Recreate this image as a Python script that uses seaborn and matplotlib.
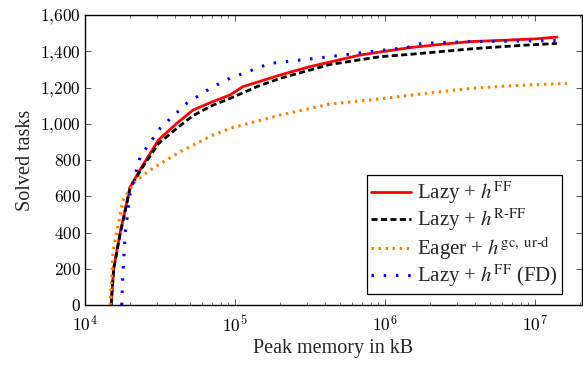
import math
import pandas as pd
import matplotlib
matplotlib.use('Agg')
import matplotlib.pyplot as plt
import matplotlib.ticker as mticker
import seaborn as sns

# Peak memory (kB) vs. number of solved tasks
lazy_ff_x = [14900, 15500, 17100, 19950, 23900, 30800, 40800, 52500, 70000, 92600,
             113000, 200000, 316000, 681000, 1000000, 1470000, 2500000, 3700000,
             6000000, 10000000, 14000000]
lazy_ff_y = [0, 200, 397, 651, 763, 910, 1002, 1076, 1120, 1159,
             1205, 1269, 1315, 1379, 1400, 1420, 1440, 1453,
             1460, 1468, 1478]

lazy_rff_x = [14900, 15500, 17100, 19950, 23900, 30800, 40800, 52500, 70000, 92600,
              140000, 200000, 430000, 926000, 1470000, 2500000, 4000000, 8000000,
              14000000]
lazy_rff_y = [0, 200, 390, 645, 755, 890, 975, 1045, 1100, 1140,
              1205, 1251, 1327, 1370, 1383, 1400, 1415, 1432,
              1443]

eager_x = [14700, 15380, 17900, 21500, 27100, 43000, 71300, 92600, 200000, 430000,
           790000, 1390000, 2000000, 3700000, 7000000, 16300000]
eager_y = [0, 303, 579, 680, 745, 846, 938, 975, 1048, 1109,
           1131, 1155, 1170, 1195, 1210, 1223]

lazy_fd_x = [17550, 17800, 18500, 19950, 23300, 31600, 47600, 71300, 92600, 171000,
             430000, 794000, 1390000, 1750000, 3700000, 15000000]
lazy_fd_y = [0, 150, 397, 616, 818, 975, 1113, 1205, 1251, 1333,
             1370, 1398, 1420, 1443, 1453, 1459]

labels = [r'Lazy + $h^{\mathrm{FF}}$',
          r'Lazy + $h^{\mathrm{R\text{-}FF}}$',
          r'Eager + $h^{\mathrm{gc,\ ur\text{-}d}}$',
          r'Lazy + $h^{\mathrm{FF}}$ (FD)']

sns.set_style('ticks')
plt.rcParams['font.family'] = ['Liberation Serif', 'DejaVu Serif']
plt.rcParams['mathtext.fontset'] = 'stix'

fig = plt.figure(figsize=(5.83, 3.65), dpi=100)
ax = fig.add_axes([0.146, 0.164, 0.852, 0.795])

series = [
    (lazy_ff_x, lazy_ff_y, '#ff0000', '-', 2.0),
    (lazy_rff_x, lazy_rff_y, '#000000', (0, (2.2, 1.2)), 2.0),
    (eager_x, eager_y, '#ff8000', (0, (0.8, 1.5)), 2.2),
    (lazy_fd_x, lazy_fd_y, '#0000ff', (0, (0.8, 3.2)), 2.2),
]
for (xs, ys, c, ls, lw), lab in zip(series, labels):
    df = pd.DataFrame({'x': xs, 'y': ys})
    sns.lineplot(data=df, x='x', y='y', ax=ax, color=c, linestyle=ls,
                 linewidth=lw, label=lab, sort=False, estimator=None)

ax.set_xscale('log')
ax.set_xlim(1e4, 2.05e7)
ax.set_ylim(0, 1600)
ax.yaxis.set_major_locator(mticker.MultipleLocator(200))
ax.yaxis.set_major_formatter(mticker.FuncFormatter(
    lambda v, p: r'$%s$' % format(int(v), ',').replace(',', '{,}')))
ax.xaxis.set_major_locator(mticker.LogLocator(base=10))
ax.xaxis.set_minor_locator(mticker.LogLocator(base=10, subs=range(2, 10)))
ax.xaxis.set_minor_formatter(mticker.NullFormatter())
ax.xaxis.set_major_formatter(mticker.FuncFormatter(
    lambda v, p: r'$10^{%d}$' % round(math.log10(v))))

ax.tick_params(which='both', direction='in', top=True, right=True,
               colors='#555555', labelcolor='black', labelsize=12.5)
ax.tick_params(which='major', length=4.5, width=0.7)
ax.tick_params(which='minor', length=2.5, width=0.6)
ax.tick_params(axis='x', which='major', pad=7)
ax.tick_params(axis='y', which='major', pad=3)
for lab in ax.get_xticklabels() + ax.get_yticklabels():
    lab.set_math_fontfamily('cm')
for s in ax.spines.values():
    s.set_color('black')
    s.set_linewidth(1.0)

ax.set_xlabel('Peak memory in kB', fontsize=14.5, labelpad=3)
ax.set_ylabel('Solved tasks', fontsize=14.5, labelpad=4)

leg = ax.legend(loc='lower right', bbox_to_anchor=(0.96, 0.04), fontsize=15,
                frameon=True, fancybox=False, edgecolor='black', framealpha=1,
                handlelength=1.9, handletextpad=0.3, borderpad=0.2,
                labelspacing=0.05, borderaxespad=0)
leg.get_frame().set_linewidth(0.9)

fig.savefig('out.png', dpi=100)
